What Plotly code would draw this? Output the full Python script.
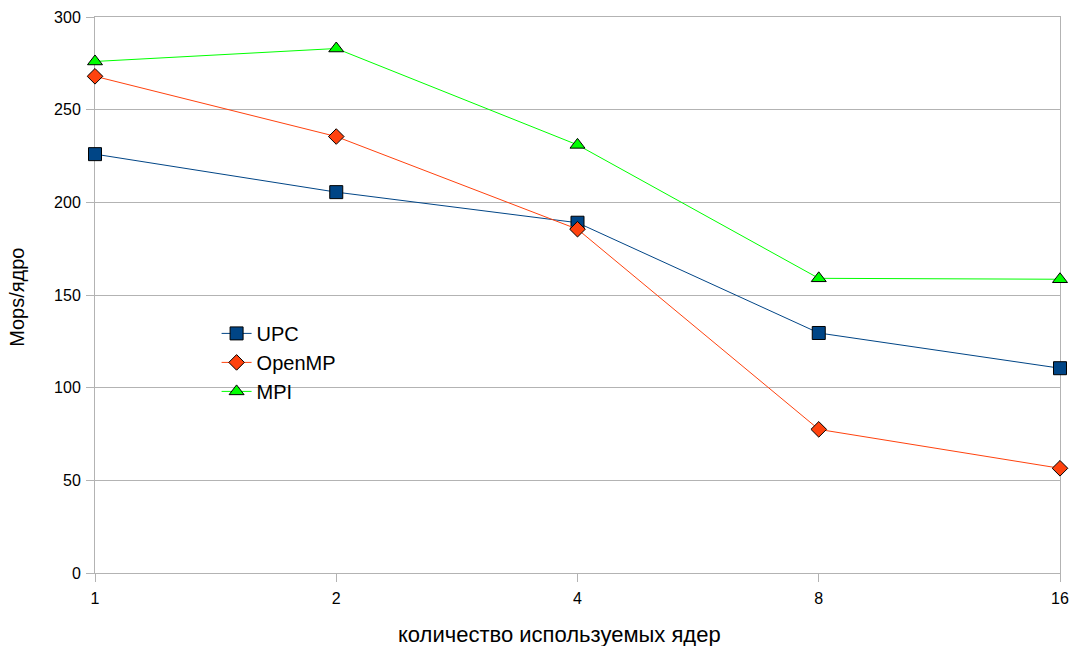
import plotly.graph_objects as go

cores = ["1", "2", "4", "8", "16"]
upc = [226, 205.5, 189, 129.5, 110.5]
openmp = [268, 235.5, 185.5, 77.5, 56.5]
mpi = [276, 283, 231, 159, 158.5]

FONT = "Liberation Sans, Arial, sans-serif"

fig = go.Figure()
fig.add_trace(go.Scatter(x=cores, y=upc, name="UPC", mode="lines+markers",
                         cliponaxis=False,
                         line=dict(color="#004586", width=1),
                         marker=dict(symbol="square", size=13, color="#004586",
                                     line=dict(color="#000000", width=1))))
fig.add_trace(go.Scatter(x=cores, y=openmp, name="OpenMP", mode="lines+markers",
                         cliponaxis=False,
                         line=dict(color="#ff420e", width=1),
                         marker=dict(symbol="diamond", size=12, color="#ff420e",
                                     line=dict(color="#000000", width=1))))
fig.add_trace(go.Scatter(x=cores, y=mpi, name="MPI", mode="lines+markers",
                         cliponaxis=False,
                         line=dict(color="#00ff00", width=1),
                         marker=dict(symbol="triangle-up", size=13, color="#00ff00",
                                     line=dict(color="#000000", width=1))))

fig.update_layout(
    width=1073, height=646,
    margin=dict(l=95, r=13, t=17, b=73),
    plot_bgcolor="white", paper_bgcolor="white",
    font=dict(family=FONT, size=16, color="#000000"),
    showlegend=True,
    legend=dict(x=0.126, y=0.466, xanchor="left", yanchor="top",
                bgcolor="rgba(0,0,0,0)", font=dict(size=20, family=FONT),
                itemwidth=30, tracegroupgap=0),
    xaxis=dict(type="category", range=[0, 4], showgrid=False, automargin=False,
               showline=True, linecolor="#b3b3b3", linewidth=1, mirror=True,
               layer="below traces",
               ticks="outside", ticklen=8, tickcolor="#b3b3b3",
               tickfont=dict(size=16), zeroline=False, ticklabelstandoff=3),
    yaxis=dict(range=[0, 300], dtick=50, showgrid=True, gridcolor="#b3b3b3",
               automargin=False, layer="below traces",
               showline=True, linecolor="#b3b3b3", linewidth=1, mirror=True,
               ticks="outside", ticklen=8, tickcolor="#b3b3b3",
               tickfont=dict(size=16), zeroline=False, ticklabelstandoff=2),
    annotations=[
        dict(text="количество используемых ядер", xref="paper", yref="paper",
             x=0.481, y=0, yshift=-61, xanchor="center", yanchor="middle",
             showarrow=False, font=dict(size=22, family=FONT)),
        dict(text="Mops/ядро", xref="paper", yref="paper",
             x=0, xshift=-78, y=0.495, xanchor="center", yanchor="middle",
             textangle=-90, showarrow=False, font=dict(size=20, family=FONT)),
    ],
)

fig.write_html("out.html")
